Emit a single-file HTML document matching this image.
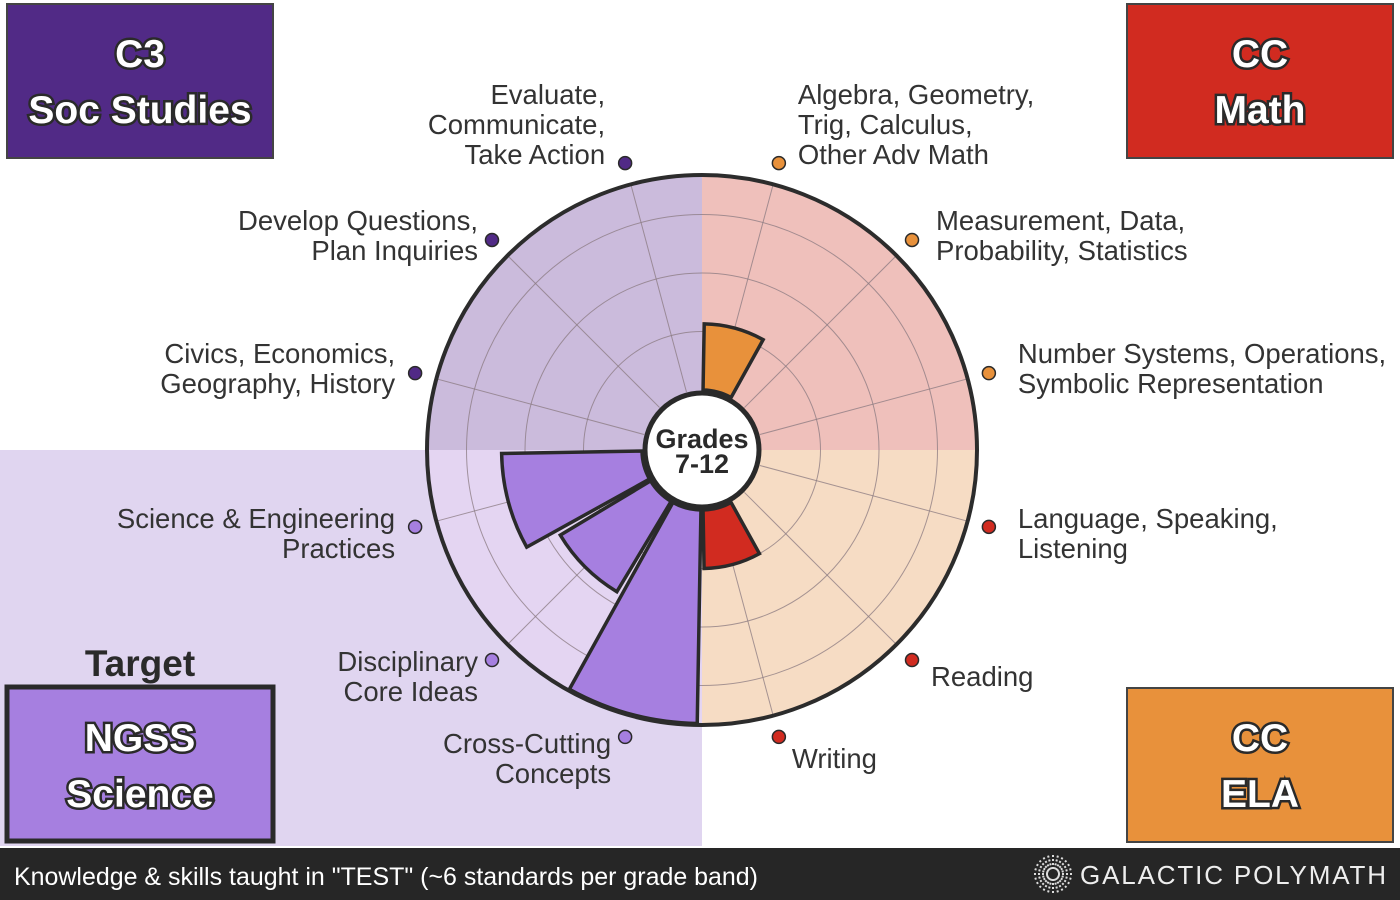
<!DOCTYPE html>
<html><head><meta charset="utf-8"><style>
html,body{margin:0;padding:0;background:#fff}
svg{display:block;font-family:"Liberation Sans",sans-serif}
.lbl{font-size:27.5px;fill:#333}
.box{font-size:39px;font-weight:bold;fill:#fff;stroke:#2a2a2a;stroke-width:5px;paint-order:stroke;text-anchor:middle}
</style></head><body>
<svg id="chart" width="1400" height="900" viewBox="0 0 1400 900">
<rect x="0" y="450" width="702" height="396" fill="#e0d5f0"/>
<g id="sectors"></g>
<g id="grid"></g>
<g id="bars"></g>
<circle cx="702" cy="450" r="275" fill="none" stroke="#2c2c2c" stroke-width="4"/>
<circle cx="702" cy="450" r="57" fill="#fff" stroke="#2a2a2a" stroke-width="5"/>
<text x="702" y="448" text-anchor="middle" font-size="27" font-weight="bold" fill="#2a2a2a">Grades</text>
<text x="702" y="473" text-anchor="middle" font-size="27" font-weight="bold" fill="#2a2a2a">7-12</text>
<g id="labels"></g>

<rect x="7" y="4" width="266" height="154" fill="#512a86" stroke="#444" stroke-width="2"/>
<text class="box" x="140" y="67">C3</text>
<text class="box" x="140" y="123">Soc Studies</text>
<rect x="1127" y="4" width="266" height="154" fill="#d12b20" stroke="#444" stroke-width="2"/>
<text class="box" x="1260" y="67">CC</text>
<text class="box" x="1260" y="123">Math</text>
<rect x="1127" y="688" width="266" height="154" fill="#e8913b" stroke="#444" stroke-width="2"/>
<text class="box" x="1260" y="751">CC</text>
<text class="box" x="1260" y="807">ELA</text>
<text x="140" y="676" text-anchor="middle" font-size="37" font-weight="bold" fill="#2a2a2a">Target</text>
<rect x="7" y="687" width="266" height="154" fill="#a67fe0" stroke="#2a2a2a" stroke-width="5"/>
<text class="box" x="140" y="751">NGSS</text>
<text class="box" x="140" y="807">Science</text>

<rect x="0" y="848" width="1400" height="52" fill="#262626"/>
<text x="14" y="885" font-size="25" fill="#fff" textLength="744" lengthAdjust="spacingAndGlyphs">Knowledge &amp; skills taught in "TEST" (~6 standards per grade band)</text>
<g>
<g id="logo" stroke="#ddd" stroke-width="2" stroke-dasharray="2 2"></g>
<text x="1080" y="884" font-size="26" fill="#eee" textLength="306" lengthAdjust="spacing">GALACTIC POLYMATH</text>
</g>
</svg>
<script>
const categories=["Algebra, Geometry,|Trig, Calculus,|Other Adv Math","Measurement, Data,|Probability, Statistics","Number Systems, Operations,|Symbolic Representation","Language, Speaking,|Listening","Reading","Writing","Cross-Cutting|Concepts","Disciplinary|Core Ideas","Science & Engineering|Practices","Civics, Economics,|Geography, History","Develop Questions,|Plan Inquiries","Evaluate,|Communicate,|Take Action"];
const subjects=["math","math","math","ela","ela","ela","sci","sci","sci","soc","soc","soc"];
const values=[1.13,0,0,0,0,1.0,3.65,1.8,2.4,0,0,0];
const ringTicks=[1,2,3];
const NS="http://www.w3.org/2000/svg",cx=702,cy=450,R=275,R0=60,K=58.5;
const barColor={math:"#e8913b",ela:"#d12b20",sci:"#a67fe0",soc:"#512a86"};
const sectorColor={math:"#efc0bb",ela:"#f6dcc4",sci:"#e4d5f2",soc:"#cbbbdc"};
function rad(v){return Math.min(R,R0+v*K);}
function ang(i){return (i*30+15);}
function pt(a,r){const t=a*Math.PI/180;return [cx+r*Math.sin(t),cy-r*Math.cos(t)];}
function el(tag,attrs,parent){const e=document.createElementNS(NS,tag);for(const k in attrs)e.setAttribute(k,attrs[k]);parent.appendChild(e);return e;}
function wedge(a0,a1,r0,r1){const p1=pt(a0,r0),p2=pt(a0,r1),p3=pt(a1,r1),p4=pt(a1,r0);const lg=(a1-a0)>180?1:0;
return `M${p1}L${p2}A${r1},${r1} 0 ${lg} 1 ${p3}L${p4}A${r0},${r0} 0 ${lg} 0 ${p1}Z`;}
const sec=document.getElementById("sectors");
["math","ela","sci","soc"].forEach((s,q)=>{
 const e=el("path",{d:wedge(q*90,q*90+90,0.01,R),fill:sectorColor[s]},sec);
 
 
});
const grid=document.getElementById("grid");
ringTicks.forEach(v=>{const c=el("circle",{cx,cy,r:rad(v),fill:"none",stroke:"#8a7a80","stroke-width":1,"stroke-opacity":0.75},grid);
 
 });
categories.forEach((c,i)=>{const a=pt(ang(i),R0),b=pt(ang(i),R);
 const l=el("line",{x1:a[0],y1:a[1],x2:b[0],y2:b[1],stroke:"#8a7a80","stroke-width":1,"stroke-opacity":0.75},grid);
 
 });
const bars=document.getElementById("bars");
values.forEach((v,i)=>{if(v<=0)return;
 const e=el("path",{d:wedge(i*30+1,i*30+29,R0,rad(v)),fill:barColor[subjects[i]],stroke:"#2a2a2a","stroke-width":3.5,"stroke-linejoin":"miter"},bars);
 
 });
const lab=document.getElementById("labels");
categories.forEach((c,i)=>{const a=ang(i),p=pt(a,297);
 const d=el("circle",{cx:p[0],cy:p[1],r:6.5,fill:barColor[subjects[i]],stroke:"#2a2a2a","stroke-width":1.5},lab);
 
 
 const lines=c.split("|"),right=a<180,n=lines.length;
 let tx=right?p[0]+19:p[0]-20,ty;
 if(a===45)tx=p[0]+24;
 if(a===75||a===105)tx=p[0]+29;
 if(a===195||a===225||a===315)tx=p[0]-14;
 if(a<30||a>330) ty=p[1]-59+(n===3?0:29);
 else if(a>150&&a<210) ty=p[1]+ (a<180?31:16);
 else if(a===135) ty=p[1]+26;
 else if(a===105||a===255) ty=p[1]+1;
 else if(a===225) ty=p[1]+11;
 else ty=p[1]-10;
 if(a===165){tx=p[0]+13;}
 const t=el("text",{x:tx,y:ty,class:"lbl","text-anchor":right?"start":"end"},lab);
 
 
 lines.forEach((s,j)=>{const ts=el("tspan",{x:tx,dy:j?30:0},t);ts.textContent=s;});
});
const logo=document.getElementById("logo");
for(let k=0;k<24;k++){const t=k*15*Math.PI/180;
 const l=el("line",{x1:1053+5*Math.cos(t),y1:874+5*Math.sin(t),x2:1053+19*Math.cos(t),y2:874+19*Math.sin(t)},logo);
 
 }
</script>
</body></html>
